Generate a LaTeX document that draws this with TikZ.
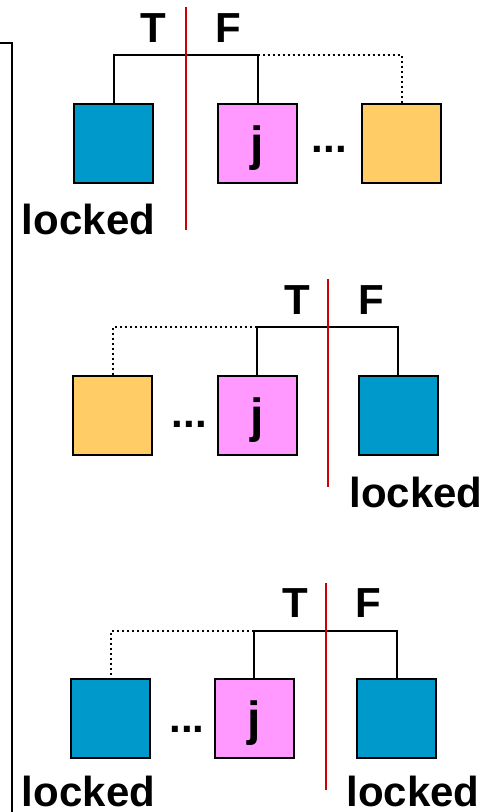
\documentclass[tikz,border=0pt]{standalone}
\usepackage{fontspec}
\setmainfont{Liberation Sans}

\definecolor{lockblue}{RGB}{0,153,204}
\definecolor{jpink}{RGB}{255,153,255}
\definecolor{farorange}{RGB}{255,204,102}
\definecolor{cutred}{RGB}{204,0,0}
\newcommand{\bigbf}{\fontsize{42}{42}\selectfont\bfseries}
\newcommand{\jbf}{\fontsize{48}{48}\selectfont\bfseries}

\begin{document}
\begin{tikzpicture}[x=1pt,y=-1pt,
    box/.style={draw=black,line width=2pt,minimum size=79pt,inner sep=0pt,text depth=0pt,font=\jbf},
    lbl/.style={inner sep=0pt,font=\bigbf},
    tree/.style={line width=2pt},
    dotbar/.style={line width=2pt,dash pattern=on 2pt off 3pt},
    cut/.style={cutred,line width=2pt}]
  \useasboundingbox (0,0) rectangle (495,812);
  % bracket on the left
  \draw[line width=2pt] (0,43) -- (12,43) -- (12,812);

  % first split: locked on the T side
  \node[box,fill=lockblue] (lock1) at (113.5,143) {};
  \node[box,fill=jpink] (j1) at (257.5,143) {j};
  \node[box,fill=farorange] (far1) at (401.5,143) {};
  \node[lbl,anchor=base] (dots1) at (329.5,152) {...};
  \node[lbl] (t1) at (153,28) {T};
  \node[lbl] (f1) at (228,28) {F};
  \node[lbl] (lk1) at (88.5,219) {locked};
  \coordinate (bar1) at (186,55);
  \draw[tree] (lock1.north) |- (j1.north |- bar1) -- (j1.north);
  \draw[dotbar] (j1.north |- bar1) -| (far1.north);
  \draw[cut] (186,7) -- (186,230);

  % second split: locked on the F side
  \node[box,fill=farorange] (far2) at (112.5,415) {};
  \node[box,fill=jpink] (j2) at (257,415) {j};
  \node[box,fill=lockblue] (lock2) at (398,415) {};
  \node[lbl,anchor=base] (dots2) at (189.5,427) {...};
  \node[lbl] (t2) at (297,300) {T};
  \node[lbl] (f2) at (371,300) {F};
  \node[lbl] (lk2) at (416,492) {locked};
  \coordinate (bar2) at (328,327);
  \draw[tree] (lock2.north) |- (j2.north |- bar2) -- (j2.north);
  \draw[dotbar] (j2.north |- bar2) -| (far2.north);
  \draw[cut] (328,279) -- (328,487);

  % third split: both ends locked
  \node[box,fill=lockblue] (far3) at (110.5,718.5) {};
  \node[box,fill=jpink] (j3) at (254,718.5) {j};
  \node[box,fill=lockblue] (lock3) at (396.5,718.5) {};
  \node[lbl,anchor=base] (dots3) at (187,732) {...};
  \node[lbl] (t3) at (295,603) {T};
  \node[lbl] (f3) at (368,603) {F};
  \node[lbl] (lk3a) at (88.5,791) {locked};
  \node[lbl] (lk3b) at (413,791) {locked};
  \coordinate (bar3) at (326,631);
  \draw[tree] (lock3.north) |- (j3.north |- bar3) -- (j3.north);
  \draw[dotbar] (j3.north |- bar3) -| (far3.north);
  \draw[cut] (326,583) -- (326,790);
\end{tikzpicture}
\end{document}
